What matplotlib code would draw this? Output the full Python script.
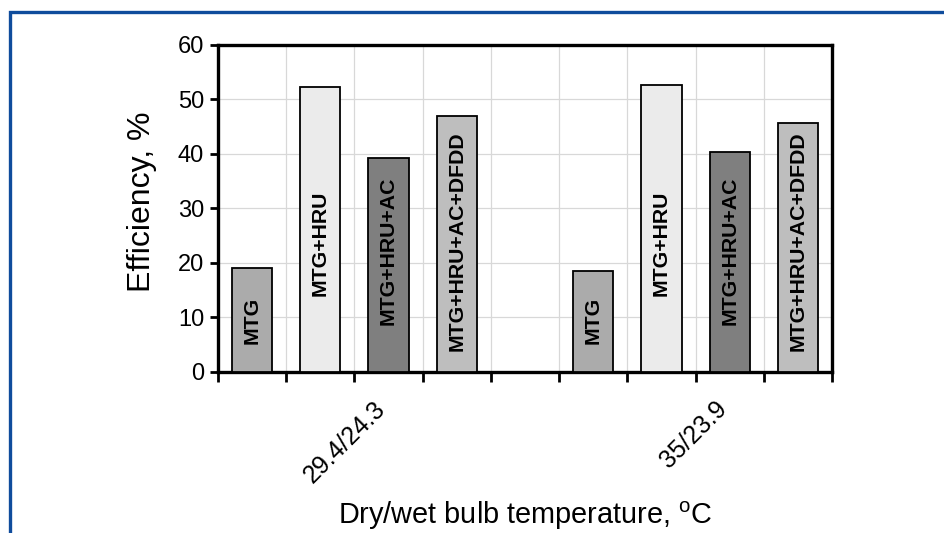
import numpy as np
import matplotlib
matplotlib.use("Agg")
import matplotlib.pyplot as plt
from matplotlib.patches import Rectangle

plt.rcParams['font.family'] = ['Liberation Sans', 'DejaVu Sans']

# Efficiency of each configuration at the two ambient conditions
configs = ["MTG", "MTG+HRU", "MTG+HRU+AC", "MTG+HRU+AC+DFDD"]
conditions = ["29.4/24.3", "35/23.9"]
eff_294 = [19.1, 52.2, 39.3, 47.0]
eff_35 = [18.5, 52.6, 40.3, 45.7]

bar_colors = ["#ababab", "#ebebeb", "#7f7f7f", "#bebebe"]
label_y = [9.5, 23.6, 22.2, 24.0]   # where the in-bar text sits

fig = plt.figure(figsize=(9.45, 5.33), dpi=100)
ax = fig.add_axes([0.2307, 0.3021, 0.6497, 0.6135])

# 9 slots: 4 bars, an empty gap, 4 bars
groups = [eff_294, eff_35]
starts = [0, 5]
for g, vals in enumerate(groups):
    for i, v in enumerate(vals):
        x = starts[g] + i
        ax.bar(x, v, width=0.59, color=bar_colors[i], edgecolor="black",
               linewidth=1.3, zorder=3)
        ax.text(x, label_y[i], configs[i], rotation=90, ha="center", va="center",
                fontsize=15.3, fontweight="bold", zorder=4)

ax.set_xlim(-0.5, 8.5)
ax.set_ylim(0, 60)
ax.set_yticks(np.arange(0, 61, 10))

# slot boundaries carry the tick marks and the vertical grid
ax.set_xticks(np.arange(-0.5, 9.0, 1.0), minor=True)
ax.set_xticks([1.78, 6.78])
ax.set_xticklabels(conditions, rotation=45, ha="right", va="top",
                   rotation_mode="anchor", fontsize=18)
ax.tick_params(axis="x", which="major", length=0, pad=18)
ax.tick_params(axis="x", which="minor", length=7, width=2, direction="out")
ax.tick_params(axis="y", length=6, width=2, direction="out", labelsize=17, pad=4)

ax.grid(True, axis="y", color="#d8d8d8", linewidth=0.9, zorder=0)
ax.grid(True, axis="x", which="minor", color="#d8d8d8", linewidth=0.9, zorder=0)
ax.set_axisbelow(True)

for sp in ax.spines.values():
    sp.set_linewidth(2.4)

ax.set_ylabel("Efficiency, %", fontsize=23)
ax.yaxis.set_label_coords(-0.10, 0.52)
ax.set_xlabel("Dry/wet bulb temperature, $\\mathregular{^oC}$", fontsize=20.8)
ax.xaxis.set_label_coords(0.5, -0.39)

# blue frame running off the right and bottom edges
fig.patches.append(Rectangle((10 / 945, -0.1), 1.2, 1 - 12 / 533 + 0.1,
                             transform=fig.transFigure, fill=False,
                             edgecolor="#0f4c9c", linewidth=2.4))

fig.savefig("out.png", dpi=100)
